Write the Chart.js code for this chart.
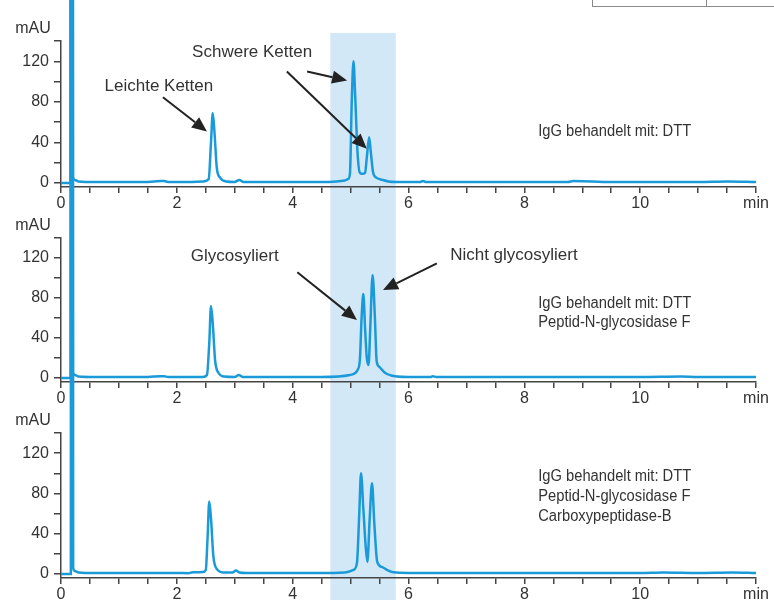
<html>
<head>
<script src="https://cdn.jsdelivr.net/npm/chart.js"></script>
<style>
  body { margin: 0; background: white; }
  #wrap { position: relative; width: 774px; height: 600px; overflow: hidden; background: white; }
  #wrap canvas { position: absolute; left: 0; top: 0; }
  .box { position: absolute; left: 592px; top: -10px; width: 200px; height: 15px; border: 1px solid #8a8a8a; }
  .boxdiv { position: absolute; left: 706px; top: 0; width: 1px; height: 6px; background: #8a8a8a; }
</style>
</head>
<body>
<div id="wrap">
  <canvas id="c1" width="774" height="600"></canvas>
  <canvas id="c2" width="774" height="600"></canvas>
  <canvas id="c3" width="774" height="600"></canvas>
  <div class="box"></div>
  <div class="boxdiv"></div>
</div>

<script>
  // Retention time (min) and absorbance (mAU)
  const times1 = [0, 0.12, 0.165, 0.172, 0.185, 0.205, 0.24, 0.3, 0.6, 1.0, 1.5, 1.72, 1.78, 1.85, 2.2, 2.45, 2.55, 2.59, 2.62, 2.65, 2.69, 2.75, 2.85, 3.0, 3.08, 3.15, 3.5, 4.0, 4.5, 4.75, 4.9, 4.96, 4.99, 5.02, 5.05, 5.08, 5.12, 5.16, 5.2, 5.25, 5.28, 5.32, 5.35, 5.39, 5.45, 5.55, 5.65, 5.8, 6.2, 6.25, 6.3, 7.0, 8.0, 8.75, 8.85, 9.5, 10.0, 11.0, 11.5, 12.0];
  const values1 = [0, 0, 0, 3000, 3000, 6, 3, 1.5, 1, 1, 1, 1.8, 1.8, 1, 1, 1.5, 4, 40, 69, 50, 15, 5, 1.5, 1, 3, 1, 1, 1, 1, 1.5, 2.5, 4, 10, 80, 120, 85, 30, 10, 9, 10, 25, 45, 30, 10, 5, 3, 1.5, 1, 1, 1.8, 1, 1, 1, 1, 2, 1, 1, 1, 1.5, 1];

  const times2 = [0, 0.12, 0.165, 0.172, 0.185, 0.205, 0.24, 0.3, 0.6, 1.0, 1.5, 1.72, 1.78, 1.85, 2.2, 2.45, 2.52, 2.56, 2.59, 2.62, 2.66, 2.72, 2.82, 3.0, 3.07, 3.14, 3.5, 4.0, 4.5, 4.99, 5.08, 5.12, 5.16, 5.19, 5.22, 5.25, 5.28, 5.31, 5.34, 5.38, 5.42, 5.45, 5.5, 5.53, 5.6, 5.7, 5.8, 6.0, 6.38, 6.42, 6.48, 7.0, 8.0, 9.0, 10.0, 10.7, 11.0, 12.0];
  const values2 = [0, 0, 0, 3000, 3000, 6, 3, 1.5, 1, 1, 1, 1.8, 1.8, 1, 1, 1, 3, 35, 72, 55, 18, 5, 1.5, 1, 3, 1, 1, 1, 1, 3, 5, 8, 18, 60, 84, 50, 20, 13, 50, 103, 60, 17, 11, 9, 5, 2.5, 1.5, 1, 1, 1.8, 1, 1, 1, 1, 1, 1.5, 1, 1];

  const times3 = [0, 0.12, 0.17, 0.178, 0.19, 0.21, 0.25, 0.3, 0.6, 1.0, 1.5, 2.0, 2.2, 2.25, 2.45, 2.5, 2.53, 2.56, 2.59, 2.63, 2.69, 2.8, 2.96, 3.02, 3.08, 3.2, 3.5, 4.0, 4.5, 4.9, 5.05, 5.11, 5.15, 5.18, 5.22, 5.26, 5.29, 5.33, 5.37, 5.41, 5.46, 5.54, 5.63, 5.74, 6.0, 7.0, 8.0, 9.0, 10.0, 10.4, 11.0, 11.6, 12.0];
  const values3 = [0, 0, 0, 3000, 3000, 6, 2.6, 1.5, 1, 1, 1, 1, 0.8, 1.5, 2, 4, 35, 72, 55, 18, 5, 1.5, 1.5, 3.5, 1.5, 1, 1, 1, 1, 1.5, 4, 11, 60, 100, 65, 28, 12, 55, 90, 50, 12, 7, 4, 1.6, 1, 1, 1, 1, 1, 1.5, 1, 1.5, 1];

  const xTickValues = [0, 0.5, 1, 1.5, 2, 2.5, 3, 3.5, 4, 4.5, 5, 5.5, 6, 6.5, 7, 7.5, 8, 8.5, 9, 9.5, 10, 10.5, 11, 11.5, 12];
  const xTickLabels = { 0: '0', 2: '2', 4: '4', 6: '6', 8: '8', 10: '10', 12: 'min' };
  const yTickValues = [0, 20, 40, 60, 80, 100, 120, 140];
  const yTickLabels = [0, 40, 80, 120];

  // highlighted time window (min)
  const shadeFrom = 4.65;
  const shadeTo = 5.78;

  const FONT = "'Liberation Sans', sans-serif";
  const LINE = '#1a9ad8';
  const INK = '#333';

  Chart.defaults.font.family = FONT;
  Chart.defaults.font.size = 16;
  Chart.defaults.color = INK;

  // big = peak labels, others = condensed sample descriptions
  const panels = [
    {
      id: 'c1', times: times1, values: values1, top: 41, bottom: 187, axisH: 30, shade: true,
      texts: [
        { x: 1.69, y: 95.5, text: 'Leichte Ketten', align: 'center', big: true },
        { x: 3.30, y: 129, text: 'Schwere Ketten', align: 'center', big: true },
        { x: 8.24, y: 51, text: 'IgG behandelt mit: DTT', align: 'left' }
      ],
      arrows: [[1.76, 84.6, 2.52, 50.7], [4.25, 110, 4.94, 101], [3.90, 110, 5.28, 33.8]]
    },
    {
      id: 'c2', times: times2, values: values2, top: 238, bottom: 382, axisH: 30,
      texts: [
        { x: 3.0, y: 121.7, text: 'Glycosyliert', align: 'center', big: true },
        { x: 7.82, y: 122.7, text: 'Nicht glycosyliert', align: 'center', big: true },
        { x: 8.24, y: 74, text: 'IgG behandelt mit: DTT', align: 'left' },
        { x: 8.24, y: 55, text: 'Peptid-N-glycosidase F', align: 'left' }
      ],
      arrows: [[4.08, 105.8, 5.11, 58], [6.49, 114.7, 5.56, 87.9]]
    },
    {
      id: 'c3', times: times3, values: values3, top: 433, bottom: 578, axisH: 22,
      texts: [
        { x: 8.24, y: 96.5, text: 'IgG behandelt mit: DTT', align: 'left' },
        { x: 8.24, y: 76.7, text: 'Peptid-N-glycosidase F', align: 'left' },
        { x: 8.24, y: 56.8, text: 'Carboxypeptidase-B', align: 'left' }
      ],
      arrows: []
    }
  ];

  function drawArrow(ctx, x1, y1, x2, y2) {
    const a = Math.atan2(y2 - y1, x2 - x1);
    const len = 15, half = 6.5;
    const bx = x2 - len * Math.cos(a), by = y2 - len * Math.sin(a);
    ctx.beginPath();
    ctx.moveTo(x1, y1);
    ctx.lineTo(bx, by);
    ctx.stroke();
    ctx.beginPath();
    ctx.moveTo(x2, y2);
    ctx.lineTo(bx + half * Math.sin(a), by - half * Math.cos(a));
    ctx.lineTo(bx - half * Math.sin(a), by + half * Math.cos(a));
    ctx.closePath();
    ctx.fill();
  }

  const shadePlugin = {
    id: 'shade',
    beforeDraw(chart, args, opts) {
      if (!opts.on) return;
      const { ctx, scales: { x, y } } = chart;
      const x1 = x.getPixelForValue(shadeFrom), x2 = x.getPixelForValue(shadeTo);
      const yt = y.getPixelForValue(148);
      ctx.save();
      ctx.fillStyle = '#d3e8f7';
      ctx.fillRect(x1, yt, x2 - x1, chart.height - yt);
      ctx.restore();
    }
  };

  const notesPlugin = {
    id: 'notes',
    afterDraw(chart, args, opts) {
      const { ctx, scales: { x, y }, chartArea } = chart;
      ctx.save();
      ctx.fillStyle = INK;
      ctx.font = '16px ' + FONT;
      ctx.textBaseline = 'middle';
      ctx.textAlign = 'center';
      ctx.fillText('mAU', chartArea.left - 28, chartArea.top - 12);
      opts.texts.forEach(t => {
        const px = x.getPixelForValue(t.x), py = y.getPixelForValue(t.y);
        ctx.textAlign = t.align;
        if (t.big) {
          ctx.font = '17px ' + FONT;
          ctx.fillText(t.text, px, py);
        } else {
          // slightly condensed for the sample description lines
          ctx.font = '16px ' + FONT;
          ctx.save();
          ctx.translate(px, py);
          ctx.scale(0.92, 1);
          ctx.fillText(t.text, 0, 0);
          ctx.restore();
        }
      });
      ctx.strokeStyle = '#222';
      ctx.fillStyle = '#222';
      ctx.lineWidth = 2;
      opts.arrows.forEach(a => {
        drawArrow(ctx, x.getPixelForValue(a[0]), y.getPixelForValue(a[1]),
                  x.getPixelForValue(a[2]), y.getPixelForValue(a[3]));
      });
      ctx.restore();
    }
  };

  panels.forEach(p => {
    new Chart(document.getElementById(p.id), {
      type: 'line',
      data: {
        datasets: [{
          data: p.times.map((t, i) => ({ x: t, y: p.values[i] })),
          borderColor: LINE,
          borderWidth: 2.5,
          pointRadius: 0,
          cubicInterpolationMode: 'monotone',
          clip: false
        }]
      },
      options: {
        responsive: false,
        animation: false,
        events: [],
        layout: { padding: { top: p.top, bottom: 600 - p.bottom - p.axisH, left: 0, right: 18 } },
        plugins: {
          legend: { display: false },
          tooltip: { enabled: false },
          shade: { on: !!p.shade },
          notes: { texts: p.texts, arrows: p.arrows }
        },
        scales: {
          x: {
            type: 'linear', min: 0, max: 12,
            afterBuildTicks: s => { s.ticks = xTickValues.map(v => ({ value: v })); },
            afterFit: s => { s.height = p.axisH; },
            ticks: {
              autoSkip: false, maxRotation: 0, padding: 1,
              callback: v => xTickLabels[v] ?? ''
            },
            grid: { drawOnChartArea: false, tickLength: 6, color: '#444', lineWidth: 1.5 },
            border: { color: '#444', width: 1.5 }
          },
          y: {
            type: 'linear', min: -4, max: 140,
            afterBuildTicks: s => { s.ticks = yTickValues.map(v => ({ value: v })); },
            afterFit: s => { s.width = 61; },
            ticks: {
              autoSkip: false, padding: 5,
              callback: v => yTickLabels.includes(v) ? String(v) : ''
            },
            grid: { drawOnChartArea: false, tickLength: 7, color: '#444', lineWidth: 1.5 },
            border: { color: '#444', width: 1.5 }
          }
        }
      },
      plugins: [shadePlugin, notesPlugin]
    });
  });
</script>
</body>
</html>
